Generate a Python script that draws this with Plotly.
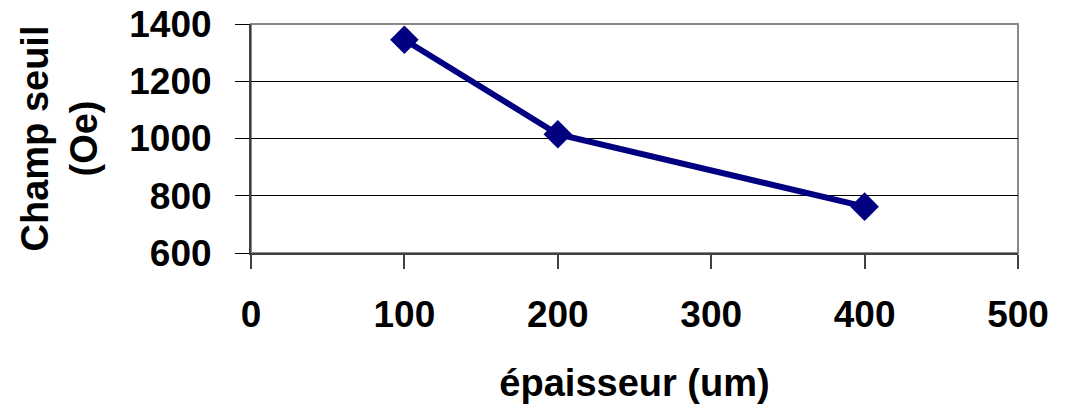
import plotly.graph_objects as go

thickness_um = [100, 200, 400]
threshold_oe = [1345, 1015, 762]
x_ticks = [0, 100, 200, 300, 400, 500]
y_ticks = [600, 800, 1000, 1200, 1400]

FONT = "Liberation Sans, Arial, sans-serif"
NAVY = "#000080"

fig = go.Figure()
fig.add_trace(go.Scatter(
    x=thickness_um, y=threshold_oe, mode="lines+markers",
    line=dict(color=NAVY, width=6),
    marker=dict(symbol="diamond", size=22, color=NAVY),
    showlegend=False,
))

fig.update_layout(
    width=1067, height=406,
    margin=dict(l=251, r=49, t=24, b=153),
    paper_bgcolor="white", plot_bgcolor="white",
    font=dict(family=FONT, color="black", size=37),
)
fig.update_xaxes(
    range=[0, 500], tickvals=x_ticks, ticktext=[str(v) for v in x_ticks],
    showgrid=False, zeroline=False,
    showline=True, linecolor="#404040", linewidth=2,
    ticks="outside", ticklen=14, tickwidth=2, tickcolor="#404040",
    ticklabelstandoff=14, ticklabeloverflow="allow",
    tickfont=dict(family=FONT, size=37, color="black", weight="bold"),
    title=dict(text="<b>épaisseur (um)</b>", font=dict(family=FONT, size=38), standoff=35),
    automargin=False,
)
fig.update_yaxes(
    range=[600, 1400], tickvals=y_ticks, ticktext=[str(v) for v in y_ticks],
    showgrid=True, gridcolor="black", gridwidth=1, zeroline=False,
    showline=True, linecolor="#404040", linewidth=2,
    ticks="outside", ticklen=14, tickwidth=1, tickcolor="black",
    ticklabelstandoff=16, ticklabeloverflow="allow",
    tickfont=dict(family=FONT, size=37, color="black", weight="bold"),
    title=dict(text="<b>Champ seuil<br>(Oe)</b>", font=dict(family=FONT, size=38), standoff=20),
    automargin=False,
)
fig.add_shape(type="rect", xref="paper", yref="paper", x0=0, x1=1, y0=0, y1=1,
              line=dict(color="#888888", width=2), layer="between")

fig.write_html(
    "out.html",
    config={"displayModeBar": False},
    post_script="document.body.style.margin='0';document.body.style.overflow='hidden';",
)
